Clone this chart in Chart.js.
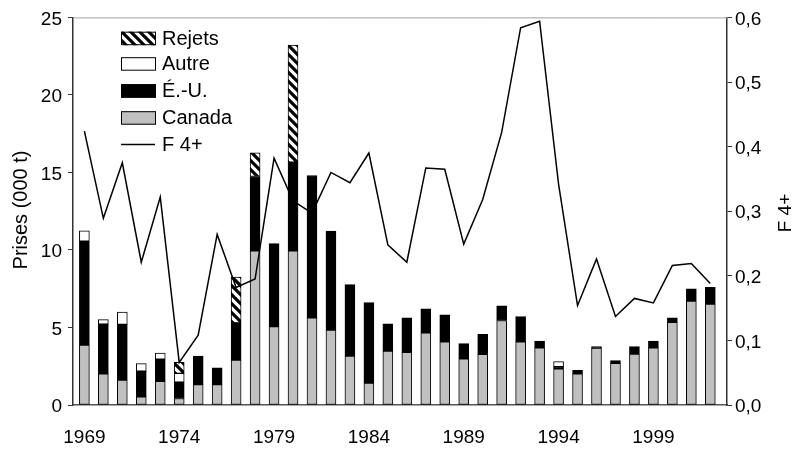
<!DOCTYPE html>
<html>
<head>
<meta charset="utf-8">
<script src="https://cdn.jsdelivr.net/npm/chart.js@4.4.1/dist/chart.umd.min.js"></script>
<style>
  html, body { margin: 0; padding: 0; background: #fff; }
  #wrap { width: 795px; height: 451px; position: relative; }
</style>
</head>
<body>
<div id="wrap"><canvas id="c" width="795" height="451"></canvas></div>
<script>
// ---- Data ----
const years = [1969,1970,1971,1972,1973,1974,1975,1976,1977,1978,1979,1980,1981,1982,1983,1984,1985,
               1986,1987,1988,1989,1990,1991,1992,1993,1994,1995,1996,1997,1998,1999,2000,2001,2002];
const canada = [3.86,2.01,1.61,0.53,1.53,0.42,1.31,1.31,2.90,9.94,5.05,9.94,5.62,4.83,3.16,1.42,3.48,
                3.39,4.66,4.07,2.97,3.27,5.45,4.07,3.69,2.33,2.01,3.67,2.69,3.29,3.69,5.34,6.70,6.51];
const usa    = [6.70,3.21,3.59,1.65,1.42,1.06,1.85,1.09,2.40,4.80,5.36,5.73,9.18,6.39,4.60,5.18,1.76,
                2.23,1.55,1.74,0.99,1.29,0.95,1.63,0.44,0.15,0.22,0.10,0.17,0.48,0.44,0.28,0.79,1.08];
const autre  = [0.68,0.29,0.80,0.49,0.40,0.56,0,0,0,0,0,0,0,0,0,0,0,
                0,0,0,0,0,0,0,0,0.32,0,0,0,0,0,0,0,0];
const rejets = [0,0,0,0,0,0.72,0,0,2.95,1.52,0,7.55,0,0,0,0,0,
                0,0,0,0,0,0,0,0,0,0,0,0,0,0,0,0,0];
const f4     = [0.424,0.289,0.375,0.221,0.322,0.066,0.108,0.264,0.182,0.195,0.382,0.316,0.297,0.360,0.344,0.390,0.248,
                0.221,0.367,0.365,0.249,0.318,0.422,0.584,0.594,0.342,0.154,0.226,0.137,0.165,0.158,0.216,0.219,0.188];
const xTickYears = [1969,1974,1979,1984,1989,1994,1999];
const seriesNames = { canada: 'Canada', usa: 'É.-U.', autre: 'Autre', rejets: 'Rejets', f4: 'F 4+' };
const leftTitle = 'Prises (000 t)';
const rightTitle = 'F 4+';

// ---- Styles ----
const FONT = "'Liberation Sans', Arial, sans-serif";

function makeHatch() {
  const s = 9;
  const c = document.createElement('canvas');
  c.width = s; c.height = s;
  const g = c.getContext('2d');
  g.fillStyle = '#fff';
  g.fillRect(0, 0, s, s);
  g.strokeStyle = '#000';
  g.lineWidth = 3.2;
  g.lineCap = 'butt';
  g.beginPath();
  g.moveTo(-3, -3); g.lineTo(s + 3, s + 3);
  g.moveTo(-3, s - 3); g.lineTo(3, s + 3);
  g.moveTo(s - 3, -3); g.lineTo(s + 3, 3);
  g.stroke();
  return g.createPattern(c, 'repeat');
}
const ctx = document.getElementById('c').getContext('2d');
const hatch = makeHatch();

const pts = arr => years.map((y, i) => ({ x: y, y: arr[i] }));

const barCommon = {
  type: 'bar',
  borderColor: '#000',
  borderWidth: 1,
  borderSkipped: false,
  barThickness: 10,
  yAxisID: 'y',
  xAxisID: 'x',
  order: 1
};

const datasets = [
  { ...barCommon, label: seriesNames.canada, data: pts(canada), backgroundColor: '#c0c0c0' },
  { ...barCommon, label: seriesNames.usa, data: pts(usa), backgroundColor: '#000000' },
  { ...barCommon, label: seriesNames.autre, data: pts(autre), backgroundColor: '#ffffff' },
  { ...barCommon, label: seriesNames.rejets, data: pts(rejets), backgroundColor: hatch },
  { type: 'line', label: seriesNames.f4, data: pts(f4), yAxisID: 'y1', xAxisID: 'x',
    borderColor: '#000', borderWidth: 1.5, pointRadius: 0, tension: 0, fill: false, order: 0 }
];

// custom legend inside the plot, and axis titles / top frame line
const decor = {
  id: 'decor',
  afterDraw(chart) {
    const c = chart.ctx;
    const a = chart.chartArea;
    c.save();
    // top frame line
    c.strokeStyle = '#a0a0a0';
    c.lineWidth = 1;
    c.beginPath();
    c.moveTo(a.left, a.top + 0.5);
    c.lineTo(a.right, a.top + 0.5);
    c.stroke();

    // legend
    const ds = chart.data.datasets;
    const order = [3, 2, 1, 0, 4];
    const bx = 121, bw = 35, bh = 13.5;
    const rowTops = [31.7, 57.2, 84.2, 111.2, 137.7];
    c.font = '20px ' + FONT;
    c.textBaseline = 'middle';
    c.textAlign = 'left';
    order.forEach((di, k) => {
      const d = ds[di];
      const top = rowTops[k];
      if (d.type === 'line') {
        c.strokeStyle = d.borderColor;
        c.lineWidth = d.borderWidth;
        c.beginPath();
        c.moveTo(bx, top + bh / 2);
        c.lineTo(bx + 34, top + bh / 2);
        c.stroke();
      } else {
        c.fillStyle = d.backgroundColor;
        c.fillRect(bx, top, bw, bh);
        c.strokeStyle = '#000';
        c.lineWidth = 1;
        c.strokeRect(bx + 0.5, top + 0.5, bw - 1, bh - 1);
      }
      c.fillStyle = '#000';
      c.fillText(d.label, 162, top + bh / 2 + 1);
    });

    // axis titles (both read bottom-to-top)
    c.font = '20px ' + FONT;
    c.textAlign = 'center';
    c.textBaseline = 'middle';
    c.translate(21, 210);
    c.rotate(-Math.PI / 2);
    c.fillText(leftTitle, 0, 0);
    c.restore();

    c.save();
    c.font = '19px ' + FONT;
    c.fillStyle = '#000';
    c.textAlign = 'center';
    c.textBaseline = 'middle';
    c.translate(786, 213);
    c.rotate(-Math.PI / 2);
    c.fillText(rightTitle, 0, 0);
    c.restore();
  }
};

new Chart(ctx, {
  data: { datasets },
  options: {
    responsive: false,
    animation: false,
    devicePixelRatio: 1,
    layout: { padding: { top: 12, right: 0, bottom: 0, left: 0 } },
    plugins: { legend: { display: false }, tooltip: { enabled: false } },
    scales: {
      x: {
        type: 'linear',
        stacked: true,
        offset: false,
        min: 1968.40,
        max: 2002.88,
        afterBuildTicks: s => { s.ticks = xTickYears.map(v => ({ value: v })); },
        afterFit: s => { s.height = 46; },
        grid: { display: false, drawTicks: false },
        border: { display: true, color: '#555', width: 1.5 },
        ticks: { color: '#000', font: { family: FONT, size: 19 }, padding: 21,
                 maxRotation: 0, autoSkip: false, callback: v => String(v) }
      },
      y: {
        type: 'linear',
        position: 'left',
        stacked: true,
        min: 0, max: 25,
        afterFit: s => { s.width = 73; },
        grid: { display: true, drawOnChartArea: false, drawTicks: true, tickLength: 5, color: '#333' },
        border: { display: true, color: '#333', width: 1.5 },
        ticks: { stepSize: 5, color: '#000', font: { family: FONT, size: 19 }, padding: 6, labelOffset: 2,
                 callback: v => String(v) }
      },
      y1: {
        type: 'linear',
        position: 'right',
        min: 0, max: 0.6,
        afterFit: s => { s.width = 68; },
        grid: { display: true, drawOnChartArea: false, drawTicks: true, tickLength: 5, color: '#333' },
        border: { display: true, color: '#333', width: 1.5 },
        ticks: { stepSize: 0.1, color: '#000', font: { family: FONT, size: 19 }, padding: 3, labelOffset: 2,
                 callback: v => v.toFixed(1).replace('.', ',') }
      }
    }
  },
  plugins: [decor]
});
</script>
</body>
</html>
